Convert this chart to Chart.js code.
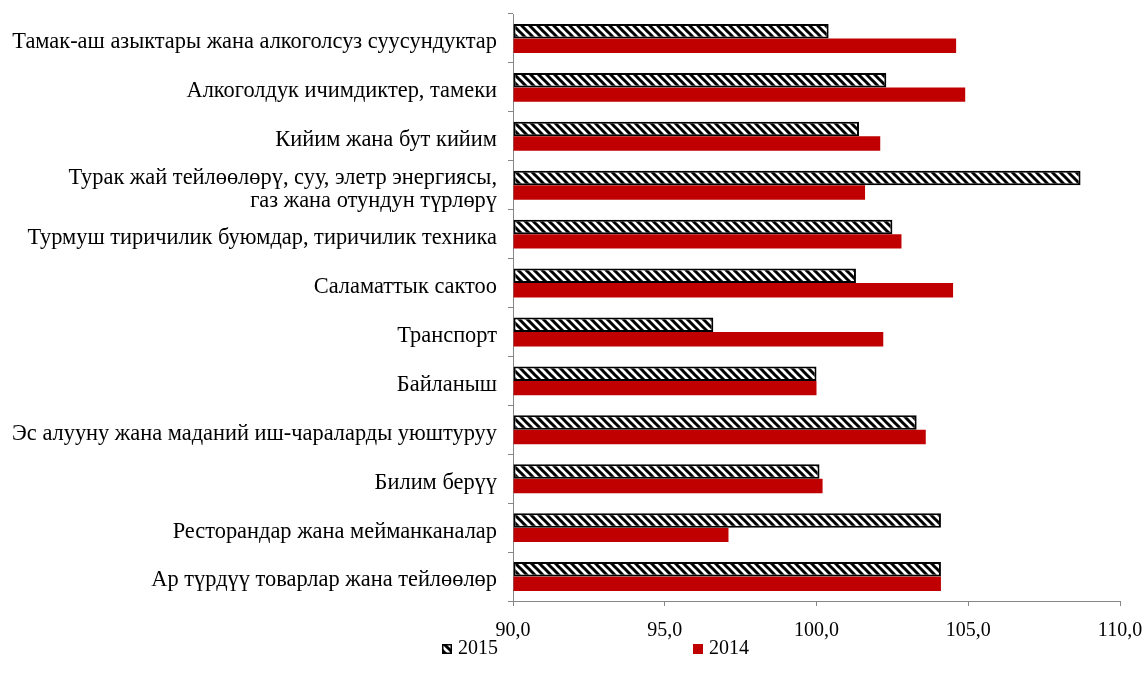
<!DOCTYPE html>
<html>
<head>
<meta charset="utf-8">
<script src="https://cdn.jsdelivr.net/npm/chart.js@4.4.1/dist/chart.umd.min.js"></script>
<style>
html,body{margin:0;padding:0;background:#fff;}
#wrap{width:1146px;height:684px;}
</style>
</head>
<body>
<div id="wrap"><canvas id="c" width="1146" height="684"></canvas></div>
<script>
const categories = [
  'Тамак-аш азыктары жана алкоголсуз суусундуктар',
  'Алкоголдук ичимдиктер, тамеки',
  'Кийим жана бут кийим',
  ['Турак жай тейлөөлөрү, суу, элетр энергиясы,', 'газ жана отундун түрлөрү'],
  'Турмуш тиричилик буюмдар, тиричилик техника',
  'Саламаттык сактоо',
  'Транспорт',
  'Байланыш',
  'Эс алууну жана маданий иш-чараларды уюштуруу',
  'Билим берүү',
  'Ресторандар жана мейманканалар',
  'Ар түрдүү товарлар жана тейлөөлөр'
];
const seriesLabels = ['2015', '2014'];
const values2015 = [100.4, 102.3, 101.4, 108.7, 102.5, 101.3, 96.6, 100.0, 103.3, 100.1, 104.1, 104.1];
const values2014 = [104.6, 104.9, 102.1, 101.6, 102.8, 104.5, 102.2, 100.0, 103.6, 100.2, 97.1, 104.1];
const xTickLabels = ['90,0', '95,0', '100,0', '105,0', '110,0'];

function makeHatch() {
  const c = document.createElement('canvas');
  c.width = 8; c.height = 8;
  const g = c.getContext('2d');
  g.fillStyle = '#ffffff';
  g.fillRect(0, 0, 8, 8);
  g.strokeStyle = '#000000';
  g.lineWidth = 3;
  g.beginPath();
  g.moveTo(-2, -2); g.lineTo(10, 10);
  g.moveTo(-2, 6); g.lineTo(2, 10);
  g.moveTo(6, -2); g.lineTo(10, 2);
  g.stroke();
  return g.createPattern(c, 'repeat');
}

const ctx = document.getElementById('c').getContext('2d');
const hatch = makeHatch();
const FONT = '"Liberation Serif", "Times New Roman", serif';

const legendPlugin = {
  id: 'bottomLegend',
  afterDraw(chart) {
    const g = chart.ctx;
    const ds = chart.data.datasets;
    g.save();
    g.font = '20px ' + FONT;
    g.textBaseline = 'middle';
    g.textAlign = 'left';
    const y = 649;
    const x = chart.chartArea.left - 71;
    const spacing = 251;
    ds.forEach((d, i) => {
      const bx = x + i * spacing;
      const size = 10;
      g.fillStyle = d.backgroundColor;
      g.fillRect(bx, y - size / 2, size, size);
      if (d.borderWidth) {
        g.strokeStyle = d.borderColor;
        g.lineWidth = 1.5;
        g.strokeRect(bx + 0.75, y - size / 2 + 0.75, size - 1.5, size - 1.5);
      }
      g.fillStyle = '#000';
      g.fillText(d.label, bx + size + 6, y);
    });
    g.restore();
  }
};

new Chart(ctx, {
  type: 'bar',
  data: {
    labels: categories,
    datasets: [
      {
        label: seriesLabels[0],
        data: values2015,
        backgroundColor: hatch,
        borderColor: '#000000',
        borderWidth: 2,
        borderSkipped: false,
        base: 90
      },
      {
        label: seriesLabels[1],
        data: values2014,
        backgroundColor: '#C00000',
        borderWidth: 0,
        base: 90
      }
    ]
  },
  options: {
    indexAxis: 'y',
    responsive: false,
    animation: false,
    devicePixelRatio: 1,
    categoryPercentage: 0.59,
    barPercentage: 1.0,
    layout: { padding: { top: 14, right: 26, bottom: 0, left: 0 } },
    plugins: {
      legend: { display: false },
      tooltip: { enabled: false }
    },
    scales: {
      x: {
        type: 'linear',
        min: 90,
        max: 110,
        ticks: {
          stepSize: 5,
          color: '#000',
          font: { family: FONT, size: 20 },
          padding: 13,
          maxRotation: 0,
          callback: (v, i) => xTickLabels[i]
        },
        grid: { drawOnChartArea: false, drawTicks: true, tickLength: 5, color: '#868686' },
        border: { color: '#868686', width: 1 },
        afterFit: (s) => { s.height = 83; s.paddingLeft = 0; s.paddingRight = 0; }
      },
      y: {
        type: 'category',
        ticks: {
          color: '#000',
          font: { family: FONT, size: 22.4, lineHeight: 1.03 },
          padding: 11,
          labelOffset: 4,
          autoSkip: false
        },
        grid: { offset: true, drawOnChartArea: false, drawTicks: true, tickLength: 5, color: '#868686' },
        border: { color: '#868686', width: 1 },
        afterFit: (s) => { s.width = 513; s.paddingTop = 0; s.paddingBottom = 0; }
      }
    }
  },
  plugins: [legendPlugin]
});
</script>
</body>
</html>
